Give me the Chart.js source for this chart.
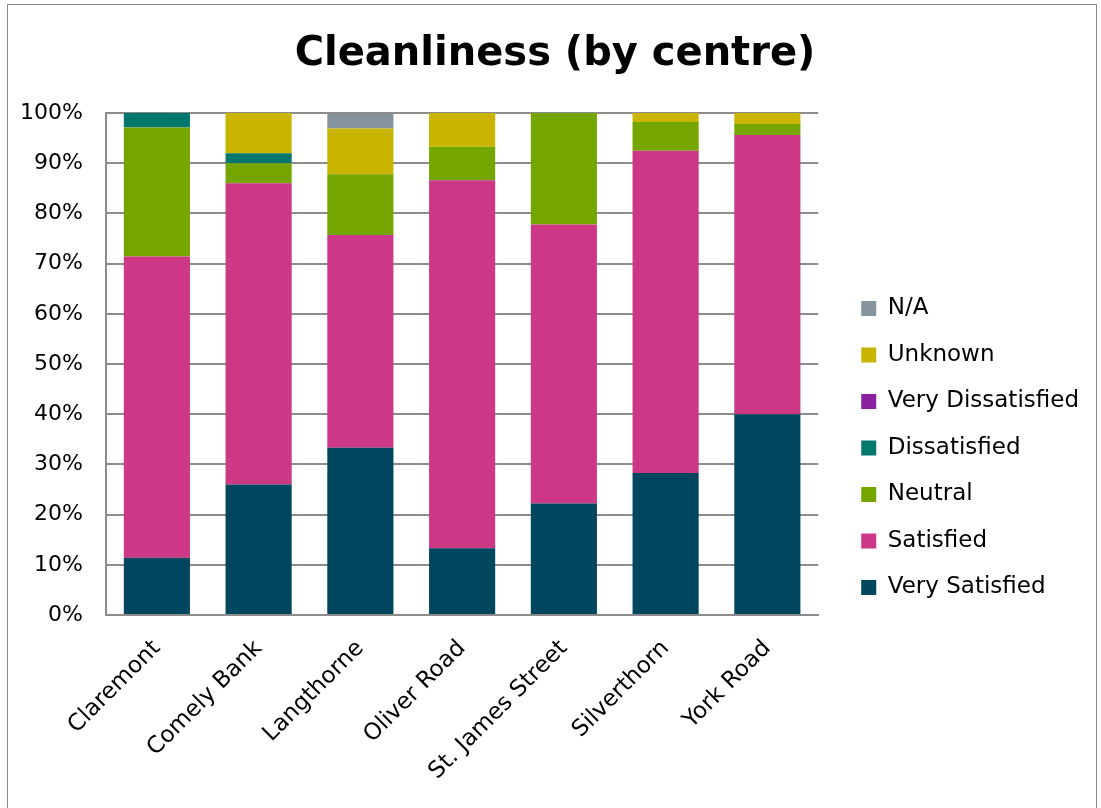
<!DOCTYPE html>
<html>
<head>
<meta charset="utf-8">
<script src="https://cdn.jsdelivr.net/npm/chart.js@4"></script>
<style>
  html, body { margin: 0; padding: 0; background: #fff; overflow: hidden; }
  #wrap { position: relative; width: 1101px; height: 808px; overflow: hidden; }
  #frame { position: absolute; left: 7px; top: 4px; width: 1090px; height: 900px; border: 1px solid #8a8a8a; box-sizing: border-box; pointer-events: none; }
  #c { position: absolute; left: 0; top: 0; }
</style>
</head>
<body>
<div id="wrap">
  <canvas id="c" width="1101" height="896"></canvas>
  <div id="frame"></div>
</div>
<script>
// centres along the x axis
const centres = ['Claremont', 'Comely Bank', 'Langthorne', 'Oliver Road', 'St. James Street', 'Silverthorn', 'York Road'];

// % of responses per centre
const verySatisfied    = [11.4, 26.0, 33.3, 13.3, 22.2, 28.3, 40.0];
const satisfied        = [60.0, 60.0, 42.4, 73.3, 55.6, 64.2, 55.6];
const neutral          = [25.7, 4.0, 12.1, 6.7, 22.2, 5.7, 2.2];
const dissatisfied     = [2.9, 2.0, 0, 0, 0, 0, 0];
const veryDissatisfied = [0, 0, 0, 0, 0, 0, 0];
const unknown          = [0, 8.0, 9.1, 6.7, 0, 1.9, 2.2];
const notApplicable    = [0, 0, 3.0, 0, 0, 0, 0];

const yTicks = [0, 10, 20, 30, 40, 50, 60, 70, 80, 90, 100];

const FONT = 'DejaVu Sans';

new Chart(document.getElementById('c'), {
  type: 'bar',
  data: {
    labels: centres,
    datasets: [
      { label: 'Very Satisfied', data: verySatisfied, backgroundColor: '#00465e' },
      { label: 'Satisfied', data: satisfied, backgroundColor: '#cd3886' },
      { label: 'Neutral', data: neutral, backgroundColor: '#75a600' },
      { label: 'Dissatisfied', data: dissatisfied, backgroundColor: '#00786e' },
      { label: 'Very Dissatisfied', data: veryDissatisfied, backgroundColor: '#8a21a0' },
      { label: 'Unknown', data: unknown, backgroundColor: '#c9b500' },
      { label: 'N/A', data: notApplicable, backgroundColor: '#85939d' }
    ]
  },
  options: {
    responsive: false,
    animation: false,
    events: [],
    datasets: { bar: { categoryPercentage: 1, barPercentage: 0.65, borderWidth: 0 } },
    layout: { padding: { left: 21, right: 12, top: 0, bottom: 0 } },
    plugins: {
      title: {
        display: true,
        text: 'Cleanliness (by centre)',
        color: '#000',
        font: { family: FONT, size: 40, weight: 'bold' },
        padding: { top: 31, bottom: 34 }
      },
      legend: {
        position: 'right',
        reverse: true,
        labels: {
          color: '#000',
          font: { family: FONT, size: 23 },
          boxWidth: 15,
          boxHeight: 15,
          padding: 23.5
        }
      },
      tooltip: { enabled: false }
    },
    scales: {
      x: {
        stacked: true,
        grid: { display: false },
        border: { display: true, color: '#8c8c8c', width: 2 },
        ticks: {
          color: '#000',
          font: { family: FONT, size: 23 },
          maxRotation: 45,
          minRotation: 45,
          padding: 12
        },
        afterFit: s => { s.height = 281; }
      },
      y: {
        stacked: true,
        min: 0,
        max: 100,
        afterBuildTicks: s => { s.ticks = yTicks.map(v => ({ value: v })); },
        grid: { color: '#8c8c8c', lineWidth: 2, drawTicks: false },
        border: { display: true, color: '#8c8c8c', width: 2 },
        ticks: {
          color: '#000',
          font: { family: FONT, size: 22 },
          padding: 23,
          callback: v => v + '%'
        },
        afterFit: s => { s.width = 85; }
      },
      // hidden spacer between plot and legend
      gap: {
        position: 'right',
        display: false,
        min: 0,
        max: 100,
        afterFit: s => { s.width = 19.5; }
      }
    }
  }
});
</script>
</body>
</html>
